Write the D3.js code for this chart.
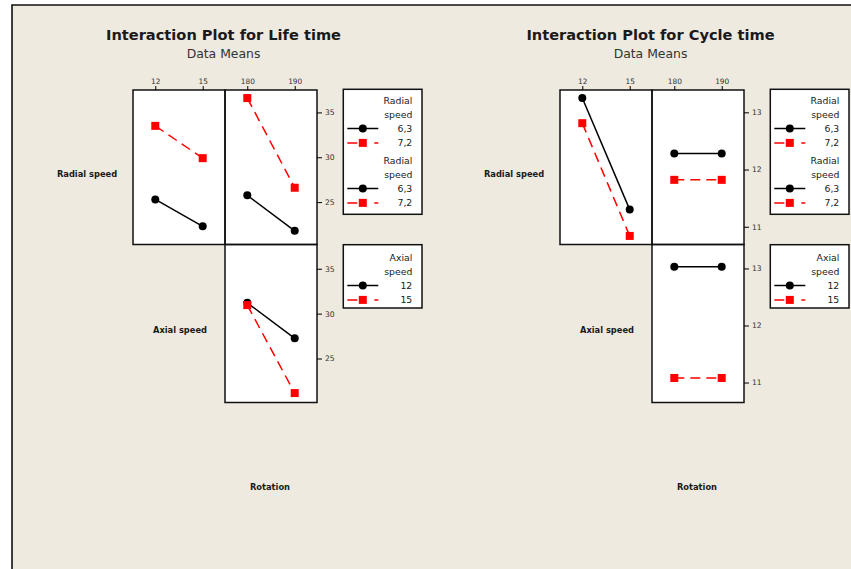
<!DOCTYPE html>
<html>
<head>
<meta charset="utf-8">
<script src="https://cdn.jsdelivr.net/npm/d3@7"></script>
<style>
  html, body { margin: 0; padding: 0; background: #fff; }
  svg { display: block; }
  text { font-family: "DejaVu Sans", Verdana, sans-serif; fill: #1a1a1a; }
</style>
</head>
<body>
<script>
'use strict';

// factor levels
var axialLevels = [12, 15];
var rotationLevels = [180, 190];
var radialLegend = ["6,3", "7,2"];
var axialLegend = ["12", "15"];

// Life time means (rows = series level, cols = x level)
var lifeRadialByAxial = [[25.3, 22.3], [33.5, 29.9]];
var lifeRadialByRotation = [[25.75, 21.8], [36.6, 26.6]];
var lifeAxialByRotation = [[31.2, 27.25], [30.95, 21.15]];
var lifeTicks = [25, 30, 35];

// Cycle time means
var cycleRadialByAxial = [[13.25, 11.3], [12.81, 10.84]];
var cycleRadialByRotation = [[12.28, 12.28], [11.82, 11.82]];
var cycleAxialByRotation = [[13.03, 13.03], [11.08, 11.08]];
var cycleTicks = [11, 12, 13];

var W = 851, H = 569;
var bg = "#eeeae0";
var red = "#ff0000";
var dash = "10,6";

var svg = d3.select("body").append("svg")
    .attr("width", W)
    .attr("height", H);

svg.append("rect")
    .attr("x", 12).attr("y", 5)
    .attr("width", W - 12).attr("height", H - 5)
    .style("fill", bg);
svg.append("path")
    .attr("d", "M12," + H + "V5H" + W)
    .style("fill", "none")
    .style("stroke", "#111")
    .style("stroke-width", 1.6);

var colX = [133, 225, 317];
var rowY = [90, 244.5, 402.5];

function drawChart(cfg) {
    var g = svg.append("g").attr("transform", "translate(" + cfg.dx + ",0)");

    g.append("text")
        .attr("x", 223.5).attr("y", 40)
        .attr("text-anchor", "middle")
        .style("font-size", "14.6px")
        .style("font-weight", "bold")
        .text(cfg.title);
    g.append("text")
        .attr("x", 223.5).attr("y", 58)
        .attr("text-anchor", "middle")
        .style("font-size", "12.4px")
        .style("fill", "#333")
        .text("Data Means");

    // row / diagonal labels
    var labels = [
        { t: "Radial speed", x: 87, y: 177 },
        { t: "Axial speed", x: 180, y: 333 },
        { t: "Rotation", x: 270, y: 490 }
    ];
    g.selectAll("rowlabel")
        .data(labels)
        .enter()
        .append("text")
        .attr("x", function(d) { return d.x; })
        .attr("y", function(d) { return d.y; })
        .attr("text-anchor", "middle")
        .style("font-size", "8.3px")
        .style("font-weight", "bold")
        .text(function(d) { return d.t; });

    var xAxial = d3.scalePoint().domain(axialLevels).range([colX[0], colX[1]]).padding(0.47);
    var xRot = d3.scalePoint().domain(rotationLevels).range([colX[1], colX[2]]).padding(0.47);
    var y1 = d3.scaleLinear().domain(cfg.dom1).range([rowY[1], rowY[0]]);
    var y2 = d3.scaleLinear().domain(cfg.dom2).range([rowY[2], rowY[1]]);

    var panels = [
        { x: xAxial, y: y1, data: cfg.radialByAxial, x0: colX[0], x1: colX[1], y0: rowY[0], y1: rowY[1] },
        { x: xRot, y: y1, data: cfg.radialByRotation, x0: colX[1], x1: colX[2], y0: rowY[0], y1: rowY[1] },
        { x: xRot, y: y2, data: cfg.axialByRotation, x0: colX[1], x1: colX[2], y0: rowY[1], y1: rowY[2] }
    ];

    panels.forEach(function(p) {
        g.append("rect")
            .attr("x", p.x0).attr("y", p.y0)
            .attr("width", p.x1 - p.x0).attr("height", p.y1 - p.y0)
            .style("fill", "#fff");
    });

    panels.forEach(function(p) {
        var levels = p.x.domain();
        p.data.forEach(function(vals, s) {
            var pts = vals.map(function(v, i) { return [p.x(levels[i]), p.y(v)]; });
            g.append("path")
                .attr("d", d3.line()(pts))
                .style("fill", "none")
                .style("stroke", s === 0 ? "#000" : red)
                .style("stroke-width", 1.5)
                .style("stroke-dasharray", s === 0 ? null : dash);
            if (s === 0) {
                g.selectAll("dot")
                    .data(pts)
                    .enter().append("circle")
                    .attr("cx", function(d) { return d[0]; })
                    .attr("cy", function(d) { return d[1]; })
                    .attr("r", 4)
                    .style("fill", "#000");
            } else {
                g.selectAll("sq")
                    .data(pts)
                    .enter().append("rect")
                    .attr("x", function(d) { return d[0] - 4; })
                    .attr("y", function(d) { return d[1] - 4; })
                    .attr("width", 8).attr("height", 8)
                    .style("fill", red);
            }
        });
    });

    panels.forEach(function(p) {
        g.append("rect")
            .attr("x", p.x0).attr("y", p.y0)
            .attr("width", p.x1 - p.x0).attr("height", p.y1 - p.y0)
            .style("fill", "none")
            .style("stroke", "#111")
            .style("stroke-width", 1.5);
    });

    // top axes
    [xAxial, xRot].forEach(function(sc) {
        var ax = g.append("g")
            .attr("transform", "translate(0," + rowY[0] + ")")
            .call(d3.axisTop(sc).tickSize(4).tickPadding(2));
        ax.select(".domain").remove();
        ax.selectAll("text").style("font-size", "7.4px").style("font-family", "DejaVu Sans").style("fill", "#333");
    });

    // right axes
    [y1, y2].forEach(function(sc) {
        var ax = g.append("g")
            .attr("transform", "translate(" + colX[2] + ",0)")
            .call(d3.axisRight(sc).tickValues(cfg.ticks).tickFormat(d3.format("d")).tickSize(5).tickPadding(3));
        ax.select(".domain").remove();
        ax.selectAll("text").style("font-size", "7.6px").style("font-family", "DejaVu Sans").style("fill", "#333");
    });

    // legends
    var boxes = [
        { y0: 89.3, y1: 214.3, groups: [{ title: ["Radial", "speed"], items: radialLegend, top: 100.7 },
                                        { title: ["Radial", "speed"], items: radialLegend, top: 160.7 }] },
        { y0: 244.7, y1: 308, groups: [{ title: ["Axial", "speed"], items: axialLegend, top: 257.7 }] }
    ];
    var bx = 343.3, bw = 78.7;
    boxes.forEach(function(b) {
        g.append("rect")
            .attr("x", bx).attr("y", b.y0)
            .attr("width", bw).attr("height", b.y1 - b.y0)
            .style("fill", "#fff")
            .style("stroke", "#111")
            .style("stroke-width", 1.5);
        b.groups.forEach(function(gr) {
            var rows = gr.title.concat(gr.items);
            var ys = [gr.top, gr.top + 13.5, gr.top + 27.8, gr.top + 42.2];
            rows.forEach(function(t, i) {
                g.append("text")
                    .attr("x", bx + 69).attr("y", ys[i] + 3.3)
                    .attr("text-anchor", "end")
                    .style("font-size", "9.3px")
                    .text(t);
            });
            gr.items.forEach(function(t, s) {
                var yy = ys[2 + s];
                g.append("line")
                    .attr("x1", bx + 4).attr("x2", bx + 35)
                    .attr("y1", yy).attr("y2", yy)
                    .style("stroke", s === 0 ? "#000" : red)
                    .style("stroke-width", 1.5)
                    .style("stroke-dasharray", s === 0 ? null : "10,17,4");
                if (s === 0) {
                    g.append("circle").attr("cx", bx + 19.5).attr("cy", yy).attr("r", 4).style("fill", "#000");
                } else {
                    g.append("rect").attr("x", bx + 15.5).attr("y", yy - 4).attr("width", 8).attr("height", 8).style("fill", red);
                }
            });
        });
    });
}

drawChart({
    dx: 0,
    title: "Interaction Plot for Life time",
    radialByAxial: lifeRadialByAxial,
    radialByRotation: lifeRadialByRotation,
    axialByRotation: lifeAxialByRotation,
    ticks: lifeTicks,
    dom1: [20.27, 37.5],
    dom2: [20.1, 37.7]
});

drawChart({
    dx: 427,
    title: "Interaction Plot for Cycle time",
    radialByAxial: cycleRadialByAxial,
    radialByRotation: cycleRadialByRotation,
    axialByRotation: cycleAxialByRotation,
    ticks: cycleTicks,
    dom1: [10.69, 13.39],
    dom2: [10.65, 13.42]
});
</script>
</body>
</html>
